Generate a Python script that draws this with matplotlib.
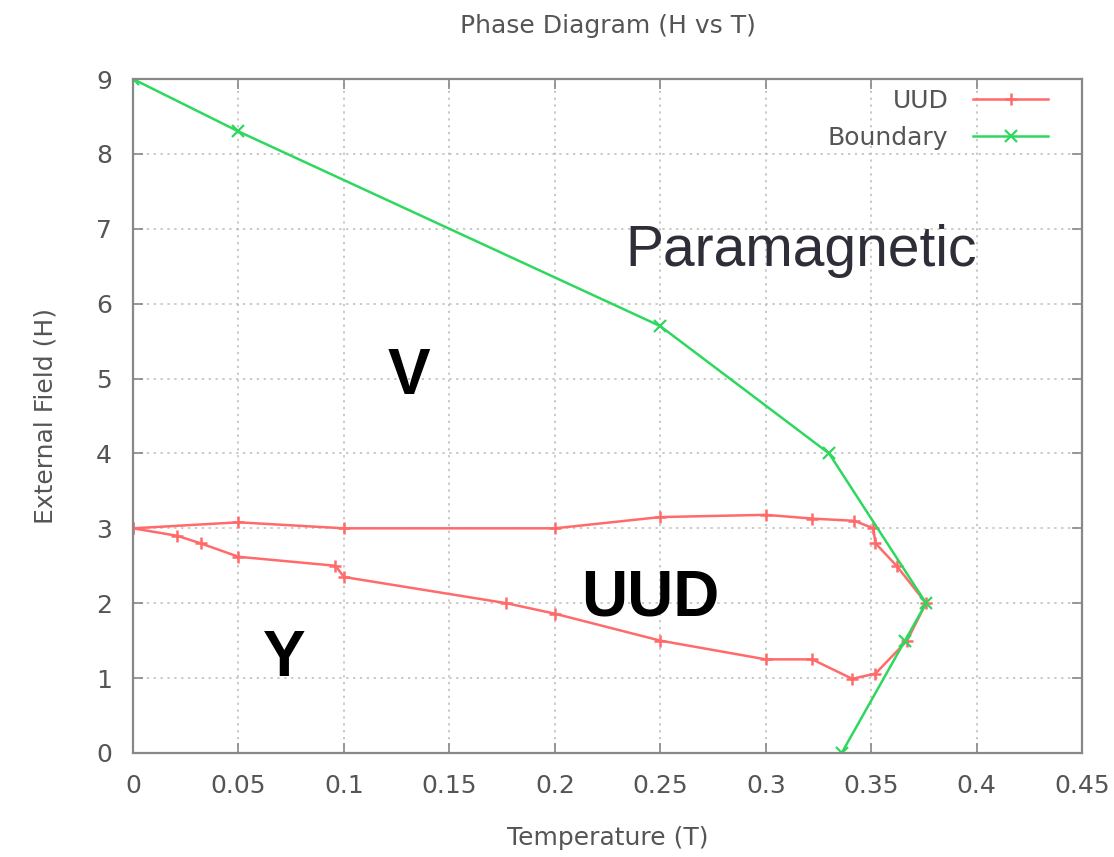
import matplotlib.pyplot as plt

# UUD phase boundary, traced round the closed loop (upper branch, then back along the lower one)
uud_t = [0.0, 0.05, 0.1, 0.2, 0.25, 0.3, 0.322, 0.342, 0.351, 0.352, 0.362, 0.376,
         0.367, 0.352, 0.341, 0.322, 0.3, 0.25, 0.2, 0.177, 0.1, 0.096, 0.05, 0.032, 0.021, 0.0]
uud_h = [3.0, 3.08, 3.0, 3.0, 3.15, 3.18, 3.13, 3.1, 3.0, 2.8, 2.5, 2.0,
         1.5, 1.06, 0.99, 1.25, 1.25, 1.5, 1.86, 2.0, 2.35, 2.5, 2.62, 2.8, 2.9, 3.0]

# paramagnetic boundary
bnd_t = [0.0, 0.05, 0.25, 0.33, 0.376, 0.366, 0.336]
bnd_h = [9.0, 8.3, 5.7, 4.0, 2.0, 1.5, 0.0]

phase_labels = ['Paramagnetic', 'V', 'UUD', 'Y']
phase_pos = [(0.317, 6.7), (0.131, 5.02), (0.245, 2.06), (0.0715, 1.25)]

xticks = [0, 0.05, 0.1, 0.15, 0.2, 0.25, 0.3, 0.35, 0.4, 0.45]
xticklabels = ['0', '0.05', '0.1', '0.15', '0.2', '0.25', '0.3', '0.35', '0.4', '0.45']
yticks = list(range(10))

grey = '#555555'
fs = 18
plt.rcParams['font.family'] = 'DejaVu Sans'

fig = plt.figure(figsize=(11.14, 8.57), dpi=100)
ax = fig.add_axes([0.1194, 0.1214, 0.8520, 0.7864])

ax.plot(uud_t, uud_h, color='#ff6b6b', lw=1.8, marker='+', ms=9, mew=1.8, label='UUD')
ax.plot(bnd_t, bnd_h, color='#2ed85f', lw=1.8, marker='x', ms=8, mew=1.6, label='Boundary')

ax.set_xlim(0, 0.45)
ax.set_ylim(0, 9)
ax.set_xticks(xticks)
ax.set_xticklabels(xticklabels)
ax.set_yticks(yticks)
ax.grid(True, color='#bbbbbb', ls=(0, (1.5, 3)), lw=1.1)
ax.tick_params(direction='in', length=7, width=1.2, top=True, right=True,
               labelsize=fs, labelcolor=grey, colors='#888888', pad=15)
for sp in ax.spines.values():
    sp.set_color('#888888')
    sp.set_linewidth(1.6)

ax.set_title('Phase Diagram (H vs T)', fontsize=fs, color=grey, pad=33)
ax.set_xlabel('Temperature (T)', fontsize=fs, color=grey, labelpad=20)
ax.set_ylabel('External Field (H)', fontsize=fs, color=grey, labelpad=28)

for name, (tx, hy) in zip(phase_labels, phase_pos):
    if name == 'Paramagnetic':
        ax.text(tx, hy, name, fontsize=41, color='#2e2e38', family='Liberation Sans',
                ha='center', va='center')
    else:
        ax.text(tx, hy, name, fontsize=46, color='black', family='Liberation Sans',
                fontweight='bold', ha='center', va='center')

leg = ax.legend(loc='upper right', bbox_to_anchor=(0.975, 1.0), borderaxespad=0,
                frameon=False, markerfirst=False, fontsize=fs, handlelength=3.0,
                handletextpad=1.0, labelspacing=0.5, labelcolor=grey)

fig.savefig('out.png', dpi=100)
